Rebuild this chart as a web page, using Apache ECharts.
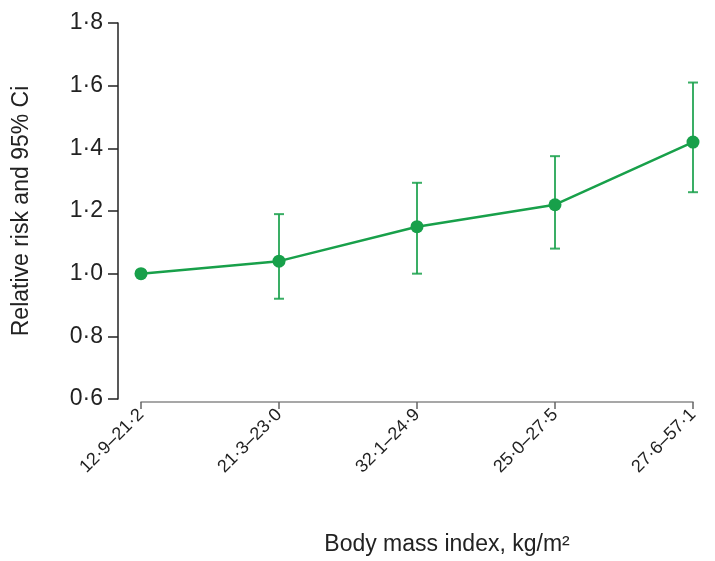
<!DOCTYPE html>
<html><head><meta charset="utf-8">
<script src="https://cdn.jsdelivr.net/npm/echarts@6/dist/echarts.min.js"></script>
<style>html,body{margin:0;padding:0;background:#fff}#c{width:715px;height:561px}</style>
</head><body><div id="c"></div>
<script>
const categories = ['12·9–21·2', '21·3–23·0', '32·1–24·9', '25·0–27·5', '27·6–57·1'];
const riskValues = [1.00, 1.04, 1.15, 1.22, 1.42];
const ciLower = [null, 0.92, 1.00, 1.08, 1.26];
const ciUpper = [null, 1.19, 1.29, 1.375, 1.61];

const green = '#18a04a';
const FONT = 'Liberation Sans, Arial, sans-serif';
const errData = categories.map((c, i) => [i, ciLower[i], ciUpper[i]]).filter(d => d[1] != null);

const chart = echarts.init(document.getElementById('c'));
chart.setOption({
  animation: false,
  grid: { left: 141, right: 22, top: 23, bottom: 162 },
  xAxis: {
    type: 'category', data: categories, boundaryGap: false, offset: 3,
    axisLine: { lineStyle: { color: '#8a8a8a', width: 1.5 } },
    axisTick: { alignWithLabel: true, length: 7, lineStyle: { color: '#666', width: 1.5 } },
    axisLabel: { rotate: 45, fontSize: 18, color: '#222', fontFamily: FONT, margin: 10 },
    name: 'Body mass index, kg/m²', nameLocation: 'middle', nameGap: 131,
    nameTextStyle: { fontSize: 23, color: '#222', fontFamily: FONT, padding: [0, 0, 0, 60] }
  },
  yAxis: {
    type: 'value', min: 0.6, max: 1.8, interval: 0.2, offset: 23,
    splitLine: { show: false },
    axisLine: { show: true, lineStyle: { color: '#222', width: 1.5 } },
    axisTick: { show: true, length: 10, lineStyle: { color: '#222', width: 1.5 } },
    axisLabel: { fontSize: 23, color: '#222', margin: 15, fontFamily: FONT,
      formatter: v => v.toFixed(1).replace('.', '·') },
    name: 'Relative risk and 95% Ci', nameLocation: 'middle', nameGap: 85,
    nameTextStyle: { fontSize: 23, color: '#222', fontFamily: FONT }
  },
  series: [
    {
      type: 'custom',
      data: errData,
      renderItem: function (params, api) {
        const x = api.value(0);
        const lo = api.coord([x, api.value(1)]);
        const hi = api.coord([x, api.value(2)]);
        const w = 5;
        const st = { stroke: green, lineWidth: 2, opacity: 0.85 };
        return { type: 'group', children: [
          { type: 'line', shape: { x1: hi[0], y1: hi[1], x2: lo[0], y2: lo[1] }, style: st },
          { type: 'line', shape: { x1: hi[0] - w, y1: hi[1], x2: hi[0] + w, y2: hi[1] }, style: st },
          { type: 'line', shape: { x1: lo[0] - w, y1: lo[1], x2: lo[0] + w, y2: lo[1] }, style: st }
        ]};
      },
      z: 2
    },
    {
      type: 'line', data: riskValues, symbol: 'circle', symbolSize: 13,
      lineStyle: { color: green, width: 2.5 }, itemStyle: { color: green }, z: 3
    }
  ]
});
</script></body></html>
